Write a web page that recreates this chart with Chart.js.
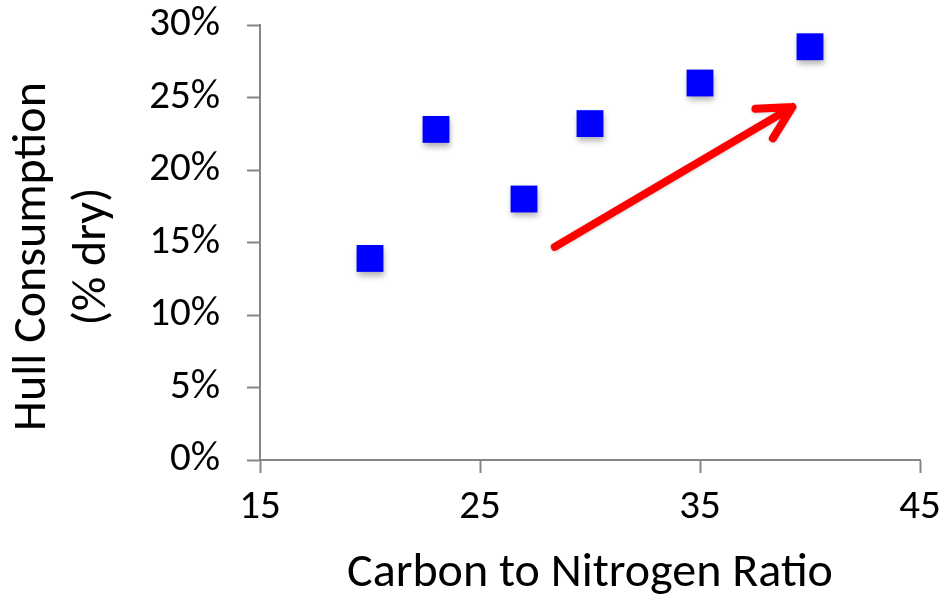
<!DOCTYPE html>
<html>
<head>
<meta charset="utf-8">
<script src="https://cdn.jsdelivr.net/npm/chart.js@4.4.1/dist/chart.umd.min.js"></script>
<style>
  html, body { margin: 0; padding: 0; background: #fff; }
  #wrap { width: 947px; height: 599px; }
</style>
</head>
<body>
<div id="wrap"><canvas id="chart" width="947" height="599"></canvas></div>
<script>
// C:N ratio vs hull consumption
const ratios = [20, 23, 27, 30, 35, 40];
const consumption = [13.9, 22.8, 18.0, 23.2, 26.0, 28.5];

const xTicks = [15, 25, 35, 45];
const yTicks = [0, 5, 10, 15, 20, 25, 30];

const xTitle = 'Carbon to Nitrogen Ratio';
const yTitle = ['Hull Consumption', '(% dry)'];

// trend arrow, start and end in data units
const arrowFrom = [28.4, 14.7];
const arrowTo = [39.2, 24.35];

const FONT = 'Carlito, Calibri, Lato, sans-serif';
const AXIS_GREY = '#868686';

// soft drop shadow under the markers
const shadowPlugin = {
  id: 'markerShadow',
  beforeDatasetsDraw(chart) {
    const ctx = chart.ctx;
    ctx.save();
    ctx.shadowColor = 'rgba(0,0,0,0.3)';
    ctx.shadowBlur = 6;
    ctx.shadowOffsetX = 1;
    ctx.shadowOffsetY = 4;
  },
  afterDatasetsDraw(chart) {
    chart.ctx.restore();
  }
};

const arrowPlugin = {
  id: 'trendArrow',
  afterDatasetsDraw(chart) {
    const { ctx, scales: { x, y } } = chart;
    const x0 = x.getPixelForValue(arrowFrom[0]);
    const y0 = y.getPixelForValue(arrowFrom[1]);
    const x1 = x.getPixelForValue(arrowTo[0]);
    const y1 = y.getPixelForValue(arrowTo[1]);
    const ang = Math.atan2(y1 - y0, x1 - x0);
    const head = 37;
    const spread = Math.PI / 6.5;

    ctx.save();
    ctx.strokeStyle = '#ff0000';
    ctx.lineWidth = 8;
    ctx.lineCap = 'round';
    ctx.lineJoin = 'round';
    ctx.shadowColor = 'rgba(0,0,0,0.2)';
    ctx.shadowBlur = 3;
    ctx.shadowOffsetY = 1;
    ctx.beginPath();
    ctx.moveTo(x0, y0);
    ctx.lineTo(x1, y1);
    ctx.moveTo(x1 - head * Math.cos(ang - spread), y1 - head * Math.sin(ang - spread));
    ctx.lineTo(x1, y1);
    ctx.lineTo(x1 - head * Math.cos(ang + spread), y1 - head * Math.sin(ang + spread));
    ctx.stroke();
    ctx.restore();
  }
};

// two-line rotated y title, each line centred a little below the plot middle
const yTitlePlugin = {
  id: 'yTitle',
  afterDraw(chart) {
    const { ctx, chartArea } = chart;
    const cy = (chartArea.top + chartArea.bottom) / 2 + 14;
    ctx.save();
    ctx.fillStyle = '#000';
    ctx.font = '48px ' + FONT;
    ctx.textAlign = 'center';
    ctx.textBaseline = 'middle';
    yTitle.forEach((line, i) => {
      ctx.save();
      ctx.translate(33 + i * 60, cy);
      ctx.rotate(-Math.PI / 2);
      ctx.fillText(line, 0, 0);
      ctx.restore();
    });
    ctx.restore();
  }
};

const points = ratios.map((r, i) => ({ x: r, y: consumption[i] }));

new Chart(document.getElementById('chart'), {
  type: 'scatter',
  data: {
    datasets: [{
      data: points,
      pointStyle: 'rect',
      pointRadius: 19,
      pointHoverRadius: 19,
      backgroundColor: '#0000ff',
      borderColor: '#0000ff',
      borderWidth: 0
    }]
  },
  options: {
    responsive: false,
    animation: false,
    events: [],
    layout: { padding: 0 },
    plugins: {
      legend: { display: false },
      tooltip: { enabled: false }
    },
    scales: {
      x: {
        type: 'linear',
        min: 15,
        max: 45,
        afterBuildTicks: s => { s.ticks = xTicks.map(v => ({ value: v })); },
        afterFit: s => {
          s.height = 139;
          s.paddingLeft = 0;
          s.paddingRight = 27;
        },
        border: { color: AXIS_GREY, width: 2 },
        grid: { drawOnChartArea: false, drawTicks: true, tickLength: 13, tickWidth: 2, tickColor: AXIS_GREY },
        ticks: { color: '#000', font: { family: FONT, size: 41 }, padding: 10 },
        title: {
          display: true,
          text: xTitle,
          color: '#000',
          font: { family: FONT, size: 48 },
          padding: { top: 0, bottom: -4 }
        }
      },
      y: {
        type: 'linear',
        min: 0,
        max: 30,
        afterBuildTicks: s => { s.ticks = yTicks.map(v => ({ value: v })); },
        afterFit: s => {
          s.width = 260;
          s.paddingTop = 25;
          s.paddingBottom = 0;
        },
        border: { color: AXIS_GREY, width: 2 },
        grid: { drawOnChartArea: false, drawTicks: true, tickLength: 13, tickWidth: 2, tickColor: AXIS_GREY },
        ticks: {
          color: '#000',
          font: { family: FONT, size: 41 },
          padding: 27,
          callback: v => v + '%'
        },
        title: { display: false }
      }
    }
  },
  plugins: [shadowPlugin, arrowPlugin, yTitlePlugin]
});
</script>
</body>
</html>
